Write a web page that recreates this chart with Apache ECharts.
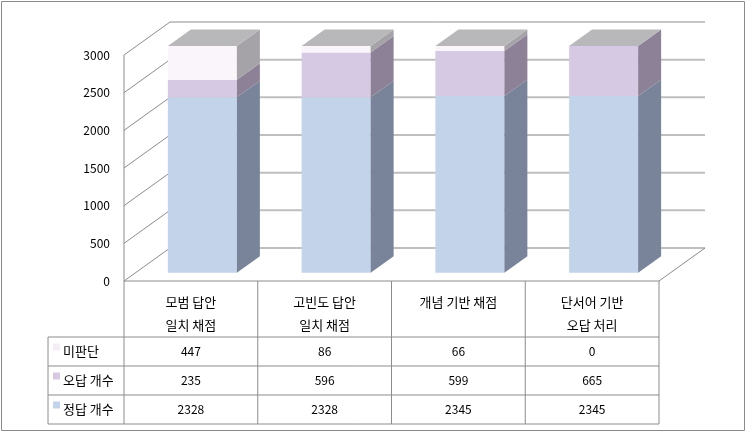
<!DOCTYPE html>
<html><head><meta charset="utf-8">
<script src="https://cdn.jsdelivr.net/npm/echarts@6/dist/echarts.min.js"></script>
<style>html,body{margin:0;padding:0;background:#fff}#c{width:748px;height:434px}</style>
</head><body><div id="c"></div>
<script>
// ---- data ----
const categories = ['모범 답안\n일치 채점', '고빈도 답안\n일치 채점', '개념 기반 채점', '단서어 기반\n오답 처리'];
const rowNames = ['미판단', '오답 개수', '정답 개수'];
const undecided = [447, 86, 66, 0];
const wrongCount = [235, 596, 599, 665];
const correctCount = [2328, 2328, 2345, 2345];
const yTicks = [0, 500, 1000, 1500, 2000, 2500, 3000];

// ---- style / layout ----
const FONT = '"Noto Sans CJK KR", "Noto Sans", sans-serif';
const GRID = {left: 124, right: 89, top: 55, bottom: 153};
const DX = 46, DY = -33;          // full wall depth
const FRONT = 0.25, BACK = 0.75;  // bar depth position
const BAR_RATIO = 0.516;
const COLORS = {
  blue: {front: '#c3d3ea', side: '#79849a'},
  lav: {front: '#d5c9e3', side: '#8c8196'},
  pink: {front: '#faf5fa', side: '#a5a2a8'},
  top: '#b8b8bb'
};
const rowColors = ['#f5eef5', COLORS.lav.front, COLORS.blue.front];

function segRender(col) {
  return function (params, api) {
    const i = api.value(0);
    const pb = api.coord([i, api.value(1)]);
    const pt = api.coord([i, api.value(2)]);
    const bw = api.size([1, 0])[0] * BAR_RATIO;
    const x0 = pb[0] - bw / 2 + DX * FRONT;
    const x1 = x0 + bw;
    const yb = pb[1] + DY * FRONT;
    const yt = pt[1] + DY * FRONT;
    const dx = DX * (BACK - FRONT), dy = DY * (BACK - FRONT);
    return {
      type: 'group', children: [
        {type: 'rect', shape: {x: x0, y: yt, width: bw, height: yb - yt}, style: {fill: col.front}},
        {type: 'polygon', shape: {points: [[x1, yb], [x1 + dx, yb + dy], [x1 + dx, yt + dy], [x1, yt]]}, style: {fill: col.side}}
      ]
    };
  };
}
function topRender(params, api) {
  const i = api.value(0);
  const pt = api.coord([i, api.value(1)]);
  const bw = api.size([1, 0])[0] * BAR_RATIO;
  const x0 = pt[0] - bw / 2 + DX * FRONT;
  const x1 = x0 + bw;
  const yt = pt[1] + DY * FRONT;
  const dx = DX * (BACK - FRONT), dy = DY * (BACK - FRONT);
  return {type: 'polygon', shape: {points: [[x0, yt], [x1, yt], [x1 + dx, yt + dy], [x0 + dx, yt + dy]]}, style: {fill: COLORS.top}};
}
function wallRender(params, api) {
  const cs = params.coordSys;
  const L = cs.x, R = cs.x + cs.width;
  const v = api.value(1);
  const y = api.coord([0, v])[1];
  const isTop = v === yTicks[yTicks.length - 1];
  const ch = [
    {type: 'line', shape: {x1: L, y1: y, x2: L + DX, y2: y + DY}, style: {stroke: '#8c8c8c', lineWidth: 1}},
    {type: 'line', shape: {x1: L + DX, y1: y + DY, x2: R + DX, y2: y + DY},
      style: isTop ? {stroke: '#8c8c8c', lineWidth: 1} : {stroke: '#bfbfbf', lineWidth: 2}}
  ];
  if (v === yTicks[0]) {
    ch.push({type: 'line', shape: {x1: R, y1: y, x2: R + DX, y2: y + DY}, style: {stroke: '#8c8c8c', lineWidth: 1}});
  }
  return {type: 'group', children: ch};
}

// stacked ranges
const blueData = categories.map((c, i) => [i, 0, correctCount[i]]);
const lavData = categories.map((c, i) => [i, correctCount[i], correctCount[i] + wrongCount[i]]);
const pinkData = categories.map((c, i) => [i, correctCount[i] + wrongCount[i], correctCount[i] + wrongCount[i] + undecided[i]]);
const topData = categories.map((c, i) => [i, correctCount[i] + wrongCount[i] + undecided[i]]);
const tableRows = [undecided, wrongCount, correctCount];

// ---- table graphics ----
const W = 748, H = 434;
const gl = GRID.left, gr = W - GRID.right, gb = H - GRID.bottom;
const catW = (gr - gl) / categories.length;
const hdrBottom = 337, rowH = 29, tblLeft = 48;
const tableBottom = hdrBottom + rowH * rowNames.length;
const gfx = [];
const lineStyle = {stroke: '#8c8c8c', lineWidth: 1};
gfx.push({type: 'rect', shape: {x: 1.5, y: 1.5, width: 743, height: 429}, style: {fill: null, stroke: '#8a8a8a', lineWidth: 1}, silent: true});
gfx.push({type: 'line', shape: {x1: gl, y1: GRID.top, x2: gl, y2: tableBottom}, style: lineStyle});
for (let k = 1; k <= categories.length; k++) {
  const x = gl + k * catW;
  gfx.push({type: 'line', shape: {x1: x, y1: gb, x2: x, y2: tableBottom}, style: lineStyle});
}
gfx.push({type: 'line', shape: {x1: tblLeft, y1: hdrBottom, x2: tblLeft, y2: tableBottom}, style: lineStyle});
gfx.push({type: 'line', shape: {x1: gl, y1: gb, x2: gr, y2: gb}, style: lineStyle});
for (let r = 0; r <= rowNames.length; r++) {
  const y = hdrBottom + r * rowH;
  gfx.push({type: 'line', shape: {x1: tblLeft, y1: y, x2: gr, y2: y}, style: lineStyle});
}
rowNames.forEach((name, r) => {
  const top = hdrBottom + r * rowH;
  gfx.push({type: 'rect', shape: {x: 53, y: top + 6.5, width: 7, height: 7}, style: {fill: rowColors[r]}});
  gfx.push({type: 'text', x: 63, y: top + rowH / 2, style: {text: name, font: '13px ' + FONT, fill: '#000', align: 'left', verticalAlign: 'middle'}});
  tableRows[r].forEach((v, i) => {
    gfx.push({type: 'text', x: gl + (i + 0.5) * catW, y: top + rowH / 2, style: {text: String(v), font: '12px ' + FONT, fill: '#000', align: 'center', verticalAlign: 'middle'}});
  });
});

const chart = echarts.init(document.getElementById('c'), null, {renderer: 'canvas'});
chart.setOption({
  animation: false,
  backgroundColor: '#fff',
  textStyle: {fontFamily: FONT},
  grid: GRID,
  xAxis: {
    type: 'category', data: categories,
    axisLine: {show: false}, axisTick: {show: false}, splitLine: {show: false},
    axisLabel: {color: '#000', fontSize: 13, lineHeight: 23, margin: 10, fontFamily: FONT, interval: 0}
  },
  yAxis: {
    type: 'value', min: 0, max: 3000, interval: 500,
    axisLine: {show: false}, axisTick: {show: false}, splitLine: {show: false},
    axisLabel: {color: '#000', fontSize: 12, margin: 14, fontFamily: FONT, formatter: v => String(v)}
  },
  graphic: gfx,
  series: [
    {type: 'custom', name: 'walls', renderItem: wallRender, data: yTicks.map(v => [0, v]), encode: {x: 0, y: 1}, silent: true, z: 1},
    {type: 'custom', name: rowNames[2], renderItem: segRender(COLORS.blue), data: blueData, encode: {x: 0, y: [1, 2]}, z: 2},
    {type: 'custom', name: rowNames[1], renderItem: segRender(COLORS.lav), data: lavData, encode: {x: 0, y: [1, 2]}, z: 2},
    {type: 'custom', name: rowNames[0], renderItem: segRender(COLORS.pink), data: pinkData, encode: {x: 0, y: [1, 2]}, z: 2},
    {type: 'custom', name: 'top', renderItem: topRender, data: topData, encode: {x: 0, y: 1}, z: 3}
  ]
});
</script></body></html>
